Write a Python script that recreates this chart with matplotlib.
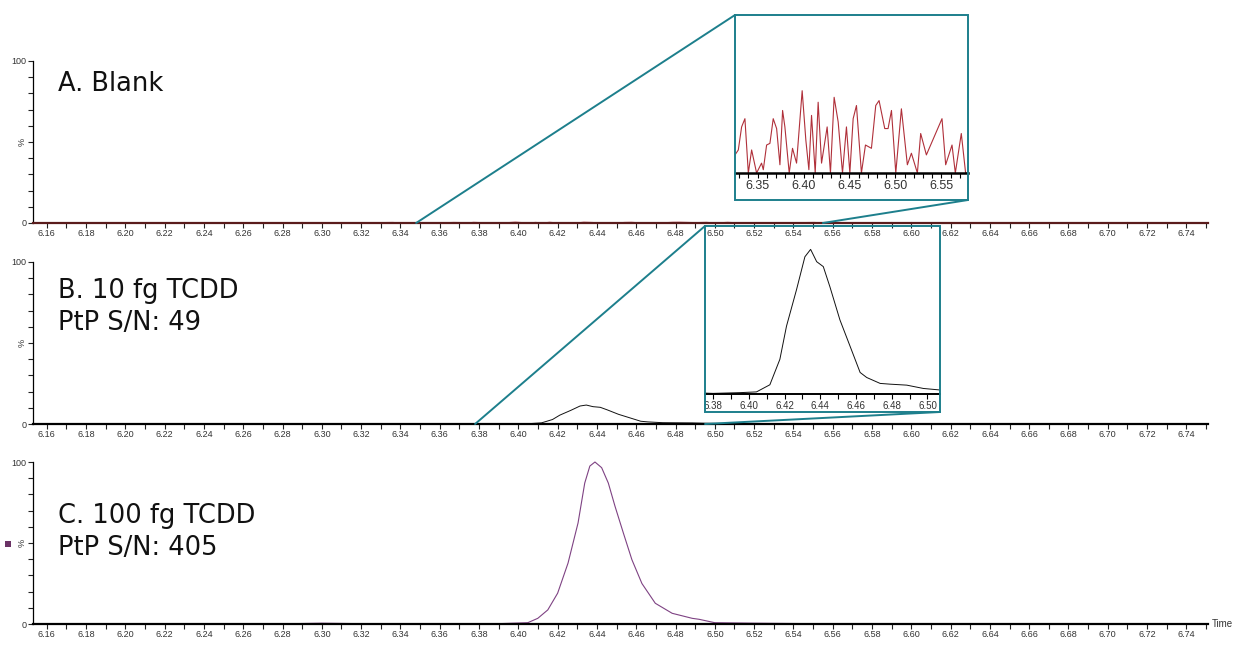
import matplotlib
matplotlib.use("Agg")
import matplotlib.pyplot as plt
from matplotlib.patches import Rectangle, ConnectionPatch
from matplotlib.ticker import MultipleLocator, FixedLocator, FixedFormatter

# -------------------------
# Data (% of base peak)
# -------------------------

blank_time = [6.153, 6.185, 6.19, 6.195, 6.225, 6.23, 6.235, 6.285, 6.29, 6.295,
              6.3254, 6.329, 6.3326, 6.3362, 6.3399, 6.3435, 6.3489, 6.3543, 6.3562,
              6.3598, 6.3634, 6.367, 6.3707, 6.3743, 6.3772, 6.3797, 6.3844, 6.388,
              6.3924, 6.3985, 6.4025, 6.4058, 6.4087, 6.4127, 6.4159, 6.4196, 6.4257,
              6.4293, 6.4333, 6.4377, 6.4424, 6.4467, 6.4504, 6.454, 6.4576, 6.463,
              6.4674, 6.4739, 6.4786, 6.4822, 6.4884, 6.492, 6.4957, 6.5004, 6.5065,
              6.513, 6.5174, 6.5239, 6.5275, 6.5337, 6.5507, 6.5547, 6.5616, 6.5652,
              6.5717, 6.5764, 6.585, 6.59, 6.595, 6.60, 6.605, 6.655, 6.66, 6.665,
              6.705, 6.71, 6.715, 6.751]
blank_pct = [0, 0, 0.3, 0, 0, 0.3, 0, 0, 0.3, 0,
             0.11, 0.14, 0.28, 0.33, 0, 0.14, 0, 0.06, 0.02,
             0.17, 0.18, 0.33, 0.27, 0.05, 0.38, 0.28, 0, 0.15,
             0.06, 0.50, 0.20, 0.02, 0.35, 0, 0.43, 0.06, 0.28,
             0, 0.46, 0.31, 0, 0.28, 0, 0.33, 0.41, 0,
             0.17, 0.15, 0.41, 0.44, 0.27, 0.27, 0.38, 0, 0.39,
             0.05, 0.12, 0, 0.24, 0.11, 0.33, 0.05, 0.17, 0,
             0.24, 0, 0, 0.3, 0, 0.3, 0, 0, 0.3, 0,
             0, 0.3, 0, 0]

fg10_time = [6.153, 6.33, 6.34, 6.35, 6.36, 6.37, 6.380, 6.395, 6.4043, 6.4118,
             6.4174, 6.4211, 6.4267, 6.4314, 6.4346, 6.438, 6.4417, 6.4454, 6.451,
             6.4566, 6.4623, 6.466, 6.4735, 6.479, 6.4884, 6.4977, 6.506, 6.52,
             6.55, 6.60, 6.751]
fg10_pct = [0, 0, 0.25, 0.3, 0.2, 0.05, 0, 0.06, 0.12, 0.70,
            2.77, 5.46, 8.42, 11.1, 11.7, 10.7, 10.3, 8.66, 5.97,
            3.86, 1.70, 1.29, 0.81, 0.75, 0.67, 0.40, 0.29, 0.1,
            0.05, 0.1, 0]

fg100_time = [6.153, 6.28, 6.30, 6.32, 6.36, 6.39, 6.4048, 6.4099, 6.415, 6.420,
              6.4253, 6.4304, 6.4338, 6.4364, 6.439, 6.4424, 6.4458, 6.4492, 6.4535,
              6.4578, 6.4629, 6.4697, 6.4783, 6.4885, 6.492, 6.50, 6.52, 6.54,
              6.56, 6.60, 6.751]
fg100_pct = [0, 0.1, 0.5, 0.2, 0.05, 0.2, 0.8, 3.5, 8.7, 19,
             37.6, 62.4, 87, 97.5, 100, 96.5, 87, 72.7, 56,
             39.7, 25, 12.8, 6.6, 3.5, 2.9, 0.8, 0.5, 0.3,
             0.15, 0.05, 0]

panel_labels = ["A. Blank", "B. 10 fg TCDD\nPtP S/N: 49", "C. 100 fg TCDD\nPtP S/N: 405"]

# zoomed time windows shown in the insets
zoom_a = (6.348, 6.555)
zoom_b = (6.378, 6.495)

# -------------------------
# Style
# -------------------------

W, H = 1254, 654
TEAL = "#1d7f8c"
RED = "#b0303a"
PURPLE = "#7e4283"
TICK_FONT = "Liberation Sans"

fig = plt.figure(figsize=(W / 100, H / 100), dpi=100)


def fx(px):
    return px / W


def fy(py):
    return 1 - py / H


def style_main(ax, show_time=False, base_color="black"):
    ax.set_xlim(6.153, 6.751)
    ax.set_ylim(0, 100)
    for s in ["top", "right"]:
        ax.spines[s].set_visible(False)
    ax.spines["left"].set_linewidth(0.9)
    ax.spines["bottom"].set_linewidth(1.6)
    ax.spines["bottom"].set_color(base_color)
    ax.xaxis.set_major_locator(MultipleLocator(0.02))
    ax.xaxis.set_minor_locator(MultipleLocator(0.01))
    ax.xaxis.set_major_formatter(plt.FormatStrFormatter("%.2f"))
    ax.yaxis.set_major_locator(FixedLocator([0, 50, 100]))
    ax.yaxis.set_major_formatter(FixedFormatter(["0", "%", "100"]))
    ax.yaxis.set_minor_locator(MultipleLocator(10))
    ax.tick_params(axis="both", which="both", direction="out", length=3.5,
                   width=0.8, colors="#222222", labelsize=6.5, pad=1)
    for lab in ax.get_xticklabels() + ax.get_yticklabels():
        lab.set_family(TICK_FONT)
        lab.set_color("#333333")
    ax.get_yticklabels()[1].set_rotation(90)
    ax.get_yticklabels()[1].set_va("center")
    if show_time:
        ax.text(1.003, 0, "Time", transform=ax.transAxes, fontsize=7,
                family=TICK_FONT, color="#333333", va="center", ha="left")


left, right = 33, 1208
main_axes = []
for top_px, bot_px in [(61, 223), (262, 424), (462, 624)]:
    ax = fig.add_axes([fx(left), fy(bot_px), fx(right - left), (bot_px - top_px) / H])
    ax.patch.set_visible(False)
    main_axes.append(ax)

ax_a, ax_b, ax_c = main_axes
ax_a.plot(blank_time, blank_pct, color=RED, lw=0.8, clip_on=False)
ax_b.plot(fg10_time, fg10_pct, color="#111111", lw=0.7)
ax_c.plot(fg100_time, fg100_pct, color=PURPLE, lw=0.8, clip_on=False)
style_main(ax_a, base_color="#5a1c1c")
style_main(ax_b)
style_main(ax_c, show_time=True)

for ax, label, ypx in zip(main_axes, panel_labels, [84, 307, 532]):
    fig.text(fx(58), fy(ypx), label, fontsize=18.5, color="#111111",
             va="center", ha="left", linespacing=1.27, family="DejaVu Sans")

# small legend square beside panel C
fig.add_artist(Rectangle((fx(5), fy(547)), fx(6), 6 / H, transform=fig.transFigure,
                         facecolor="#6b3366", edgecolor="none"))

# -------------------------
# Insets
# -------------------------


def make_inset(box_px, axis_bottom_px, time, pct, ylim, xlim, major, minor,
               color, lw, labelsize, spine_w):
    bl, bt, br, bb = box_px
    box = Rectangle((fx(bl), fy(bb)), fx(br - bl), (bb - bt) / H,
                    transform=fig.transFigure, facecolor="none",
                    edgecolor=TEAL, lw=1.4, zorder=5)
    fig.add_artist(box)
    iax = fig.add_axes([fx(bl), fy(axis_bottom_px), fx(br - bl), (axis_bottom_px - bt) / H])
    iax.patch.set_visible(False)
    iax.plot(time, pct, color=color, lw=lw)
    iax.set_xlim(*xlim)
    iax.set_ylim(*ylim)
    for s in ["top", "right", "left"]:
        iax.spines[s].set_visible(False)
    iax.spines["bottom"].set_linewidth(spine_w)
    iax.set_yticks([])
    iax.xaxis.set_major_locator(MultipleLocator(major))
    iax.xaxis.set_minor_locator(MultipleLocator(minor))
    iax.xaxis.set_major_formatter(plt.FormatStrFormatter("%.2f"))
    iax.tick_params(axis="x", which="both", direction="out", length=3.5,
                    width=0.8, labelsize=labelsize, pad=1.5)
    for lab in iax.get_xticklabels():
        lab.set_family(TICK_FONT)
        lab.set_color("#333333")
    return box


box_a = (735, 15, 968, 200)
box_b = (705, 226, 940, 412)

make_inset(box_a, 173, blank_time, blank_pct, (0, 0.96), (6.3254, 6.579),
           0.05, 0.01, RED, 0.8, 9, 1.8)
make_inset(box_b, 394, fg10_time, fg10_pct, (-0.05, 13.6), (6.3755, 6.507),
           0.02, 0.01, "#111111", 0.7, 7, 1.4)

# connector lines from zoom windows to inset boxes
for ax, box, (z0, z1) in [(ax_a, box_a, zoom_a), (ax_b, box_b, zoom_b)]:
    bl, bt, br, bb = box
    for corner, zx in [((bl, H - bt), z0), ((br, H - bb), z1)]:
        con = ConnectionPatch(xyA=corner, coordsA="figure pixels",
                              xyB=(zx, 0), coordsB=ax.transData,
                              color=TEAL, lw=1.4, zorder=6)
        fig.add_artist(con)

fig.savefig("out.png", dpi=100)
